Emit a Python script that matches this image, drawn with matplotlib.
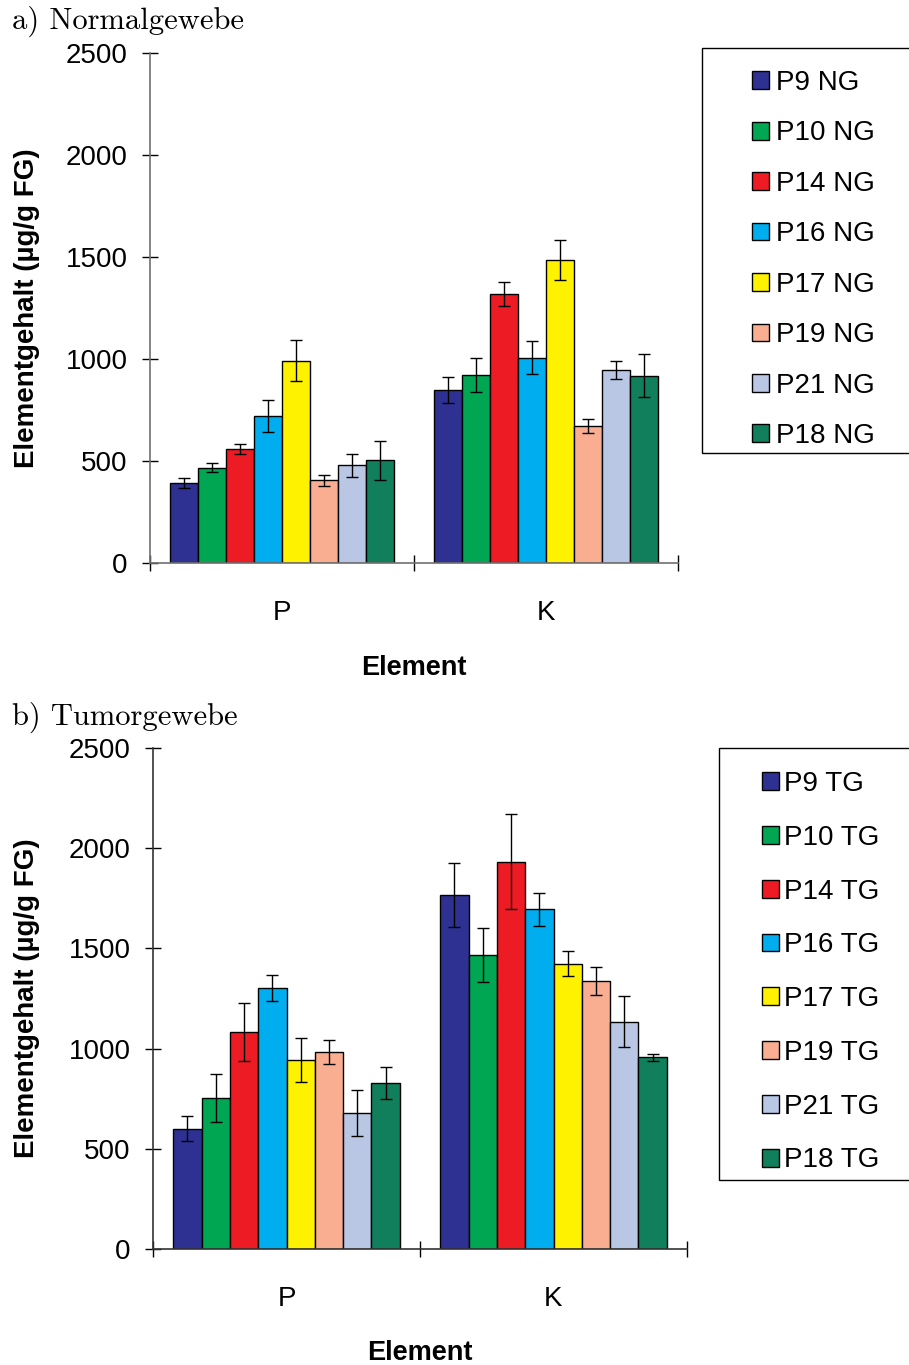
import numpy as np
import matplotlib
matplotlib.use('Agg')
import matplotlib.pyplot as plt
from matplotlib.patches import Rectangle

plt.rcParams['font.family'] = ['Liberation Sans', 'DejaVu Sans']

elements = ['P', 'K']
labels_ng = ['P9 NG', 'P10 NG', 'P14 NG', 'P16 NG', 'P17 NG', 'P19 NG', 'P21 NG', 'P18 NG']
labels_tg = ['P9 TG', 'P10 TG', 'P14 TG', 'P16 TG', 'P17 TG', 'P19 TG', 'P21 TG', 'P18 TG']
colors = ['#2E3192', '#00A651', '#ED1C24', '#00AEEF', '#FFF200', '#F9AD91', '#B9C7E4', '#117F5C']

# Normalgewebe, values per patient for P and K
ng_P = [393, 468, 560, 720, 991, 405, 478, 503]
ng_P_err = [24, 20, 25, 80, 100, 27, 55, 97]
ng_K = [849, 923, 1320, 1006, 1485, 671, 944, 918]
ng_K_err = [65, 84, 59, 80, 96, 35, 44, 105]

# Tumorgewebe
tg_P = [600, 754, 1083, 1302, 943, 983, 679, 827]
tg_P_err = [62, 119, 147, 64, 112, 60, 115, 79]
tg_K = [1766, 1468, 1932, 1695, 1423, 1338, 1134, 956]
tg_K_err = [159, 135, 237, 82, 62, 71, 127, 19]

W, H = 909, 1365
fig = plt.figure(figsize=(W / 100, H / 100), dpi=100)


def draw_panel(rect, vals_P, err_P, vals_K, err_K, labels, spine_color, leg_box, leg_anchor, leg_spacing, leg_pad):
    ax = fig.add_axes(rect)
    x = np.arange(len(elements))
    bw = 0.106
    handles = []
    for j in range(len(labels)):
        vals = [vals_P[j], vals_K[j]]
        errs = [err_P[j], err_K[j]]
        pos = x + (j - 3.5) * bw
        b = ax.bar(pos, vals, bw, color=colors[j], edgecolor='black', linewidth=1.0, zorder=2)
        ax.errorbar(pos, vals, yerr=errs, fmt='none', ecolor='black', elinewidth=1.0,
                    capsize=4.5, capthick=1.0, zorder=3)
        handles.append(b)

    ax.set_xlim(-0.5, 1.5)
    ax.set_ylim(0, 2500)
    ax.set_yticks([0, 500, 1000, 1500, 2000, 2500])
    ax.set_xticks([-0.5, 0.5, 1.5])
    ax.set_xticklabels([])
    ax.set_xticks(x, minor=True)
    ax.set_xticklabels(elements, minor=True)
    ax.tick_params(axis='x', which='minor', length=0, pad=27, labelsize=20)
    ax.tick_params(axis='x', which='major', direction='inout', length=12, width=1, color='black')
    ax.tick_params(axis='y', direction='inout', length=12, width=1, color='black', pad=10, labelsize=20)

    for s in ['top', 'right']:
        ax.spines[s].set_visible(False)
    for s in ['left', 'bottom']:
        ax.spines[s].set_color(spine_color)
        ax.spines[s].set_linewidth(1.2)

    ax.set_ylabel('Elementgehalt (µg/g FG)', fontsize=20, fontweight='bold', va='center')
    ax.set_xlabel('Element', fontsize=19.5, fontweight='bold')
    bx0, bx1 = rect[0] * W, (rect[0] + rect[2]) * W
    ax.yaxis.set_label_coords((27 - bx0) / (bx1 - bx0), 0.5)
    ax.xaxis.set_label_coords(0.5, -0.181)

    # legend box runs off the right edge of the figure
    fig.patches.append(Rectangle((leg_box[0] / W, 1 - leg_box[2] / H), 0.5, (leg_box[2] - leg_box[1]) / H,
                                 transform=fig.transFigure, facecolor='white', edgecolor='black',
                                 linewidth=1.0, zorder=0))
    fig.legend(handles, labels, loc='upper left', bbox_to_anchor=(leg_anchor[0] / W, 1 - leg_anchor[1] / H),
               frameon=False, fontsize=20, handlelength=0.61, handleheight=0.61,
               handletextpad=leg_pad, labelspacing=leg_spacing, borderpad=0, borderaxespad=0)
    return ax


ax1 = draw_panel([150 / W, 1 - 563 / H, 528 / W, 510 / H], ng_P, ng_P_err, ng_K, ng_K_err, labels_ng,
                 '#707070', (702, 48, 453), (752, 70), 0.88, 0.25)
ax2 = draw_panel([153 / W, 1 - 1249 / H, 534 / W, 501 / H], tg_P, tg_P_err, tg_K, tg_K_err, labels_tg,
                 '#333333', (719, 748, 1180), (762, 771), 1.0, 0.18)

fig.text(12 / W, 1 - 21 / H, 'a) Normalgewebe', family='cmr10', fontsize=22, va='center', ha='left')
fig.text(12 / W, 1 - 717 / H, 'b) Tumorgewebe', family='cmr10', fontsize=22, va='center', ha='left')

fig.savefig('out.png', dpi=100, facecolor='white')
